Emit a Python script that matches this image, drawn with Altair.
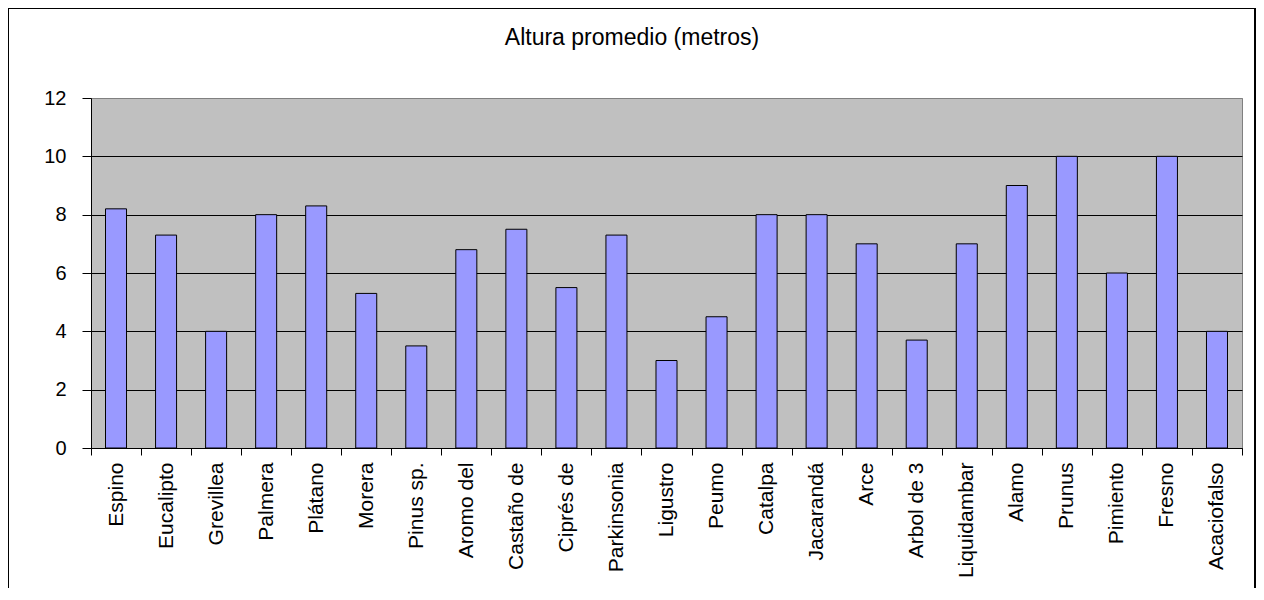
import altair as alt
import pandas as pd

title_text = ["Altura promedio (metros)"]
species = ["Espino", "Eucalipto", "Grevillea", "Palmera", "Plátano", "Morera",
           "Pinus sp.", "Aromo del", "Castaño de", "Ciprés de", "Parkinsonia",
           "Ligustro", "Peumo", "Catalpa", "Jacarandá", "Arce", "Arbol de 3",
           "Liquidambar", "Alamo", "Prunus", "Pimiento", "Fresno", "Acaciofalso"]
heights = [8.2, 7.3, 4.0, 8.0, 8.3, 5.3, 3.5, 6.8, 7.5, 5.5, 7.3,
           3.0, 4.5, 8.0, 8.0, 7.0, 3.7, 7.0, 9.0, 10.0, 6.0, 10.0, 4.0]
y_ticks = [0, 2, 4, 6, 8, 10, 12]

df = pd.DataFrame({"especie": species, "altura": heights})

FONT = "Liberation Sans"

bars = alt.Chart(df).mark_bar(
    width=alt.RelativeBandSize(0.42),
    color="#9999FF",
    stroke="black",
    strokeWidth=1,
).encode(
    x=alt.X("especie:N", sort=None, title=None,
            scale=alt.Scale(paddingInner=0, paddingOuter=0),
            axis=alt.Axis(labelAngle=-90, labelAlign="right", labelBaseline="middle",
                          labelFontSize=21, labelFont=FONT, labelColor="black",
                          labelPadding=7, tickBand="extent", tickSize=7,
                          tickColor="black", domainColor="black", grid=False,
                          labelOverlap=False)),
    y=alt.Y("altura:Q", title=None,
            scale=alt.Scale(domain=[0, 12], nice=False),
            axis=alt.Axis(values=y_ticks, labelFontSize=20, labelFont=FONT,
                          labelColor="black", labelPadding=16, tickSize=9,
                          tickColor="black", domainColor="black", grid=True,
                          gridColor={"condition": {"test": "datum.value === 12", "value": "#808080"},
                                     "value": "black"},
                          gridWidth=1)),
)

title = alt.Chart(pd.DataFrame({"t": title_text})).mark_text(
    font=FONT, fontSize=23, color="black", align="center", baseline="alphabetic"
).encode(
    text="t:N", x=alt.value(541), y=alt.value(-53)
)

frame = alt.Chart(pd.DataFrame({"k": [0]})).mark_rect(
    fillOpacity=0, stroke="black", strokeWidth=2
).encode(
    x=alt.value(-83), x2=alt.value(1164), y=alt.value(-90), y2=alt.value(520)
)

chart = alt.layer(bars, title, frame).properties(
    width=1151,
    height=350,
    autosize=alt.AutoSizeParams(type="none"),
    padding={"left": 83, "top": 90, "right": 14, "bottom": 140},
    background="white",
).configure_view(
    fill="#C0C0C0", stroke="#808080", strokeWidth=1
)

chart.save("out.html", embed_options={"renderer": "svg", "actions": False})
